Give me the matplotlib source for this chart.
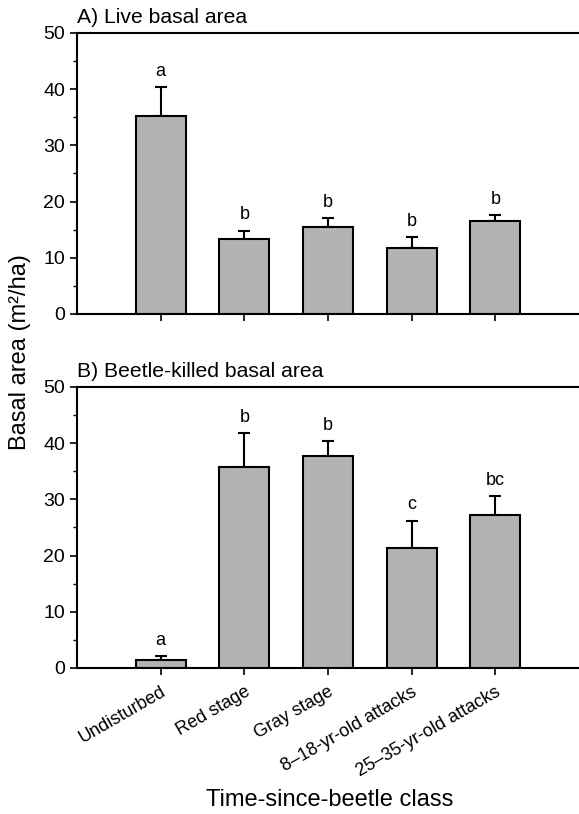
import numpy as np
import matplotlib
matplotlib.use('Agg')
import matplotlib.pyplot as plt
from matplotlib.ticker import MultipleLocator

plt.rcParams['font.family'] = ['Liberation Sans', 'DejaVu Sans']

# 데이터
classes = ['Undisturbed', 'Red stage', 'Gray stage', '8\u201318-yr-old attacks', '25\u201335-yr-old attacks']
live_mean = [35.2, 13.3, 15.5, 11.7, 16.5]
live_err = [5.2, 1.5, 1.6, 2.0, 1.1]
live_letters = ['a', 'b', 'b', 'b', 'b']
killed_mean = [1.4, 35.8, 37.7, 21.4, 27.2]
killed_err = [0.7, 6.0, 2.7, 4.8, 3.4]
killed_letters = ['a', 'b', 'b', 'c', 'bc']

fig = plt.figure(figsize=(5.79, 8.14), dpi=100)
ax1 = fig.add_axes([0.133, 0.6143, 0.867, 0.3452])
ax2 = fig.add_axes([0.133, 0.1794, 0.867, 0.3452])

x = np.arange(len(classes))

def panel(ax, means, errs, letters, title):
    ax.bar(x, means, width=0.6, color='#b3b3b3', edgecolor='black', linewidth=1.5, zorder=2)
    ax.errorbar(x, means, yerr=[np.zeros(len(errs)), errs], fmt='none', ecolor='black',
                elinewidth=1.5, capsize=4, capthick=1.5, zorder=1)
    for xi, m, e, lab in zip(x, means, errs, letters):
        ax.text(xi, m + e + 1.3, lab, ha='center', va='bottom', fontsize=13)
    ax.set_xlim(-1, 5)
    ax.set_ylim(0, 50)
    ax.yaxis.set_major_locator(MultipleLocator(10))
    ax.yaxis.set_minor_locator(MultipleLocator(5))
    ax.set_xticks(x)
    ax.spines['right'].set_visible(False)
    for s in ['left', 'top', 'bottom']:
        ax.spines[s].set_linewidth(1.5)
    ax.tick_params(axis='both', which='major', direction='out', length=5, width=1.2, labelsize=14)
    ax.tick_params(axis='y', which='minor', direction='out', length=3, width=1.0)
    ax.text(0.0, 1.02, title, transform=ax.transAxes, ha='left', va='bottom', fontsize=15.2)

panel(ax1, live_mean, live_err, live_letters, 'A) Live basal area')
panel(ax2, killed_mean, killed_err, killed_letters, 'B) Beetle-killed basal area')

ax1.set_xticklabels([])
ax2.set_xticklabels(classes, rotation=30, ha='right', rotation_mode='anchor', fontsize=13)
ax2.tick_params(axis='x', pad=6)

fig.text(0.035, 0.567, 'Basal area (m\u00b2/ha)', rotation=90, ha='center', va='center', fontsize=17)
fig.text(0.57, 0.017, 'Time-since-beetle class', ha='center', va='center', fontsize=17)

plt.savefig('out.png', dpi=100)
